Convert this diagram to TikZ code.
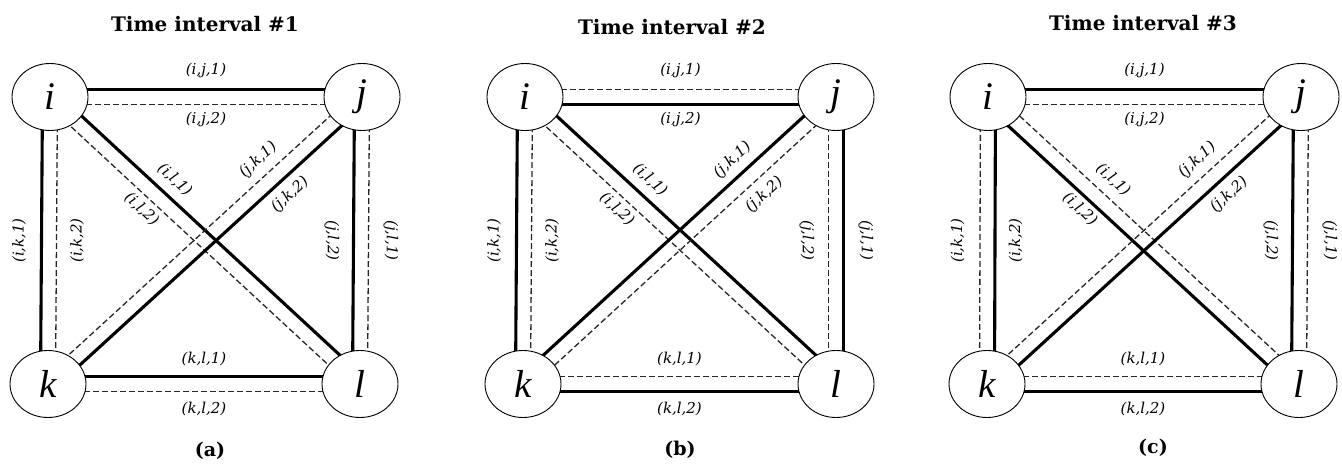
\documentclass[tikz,border=0pt]{standalone}
\usepackage{fontspec}
\setmainfont{Liberation Serif}
\newfontfamily\labfont{DejaVu Serif}
\newfontfamily\titfont{DejaVu Serif}
\usetikzlibrary{shapes.geometric,calc,backgrounds}
\tikzset{
  vtx/.style={ellipse, draw, line width=0.9pt, fill=white, minimum width=76pt,
    minimum height=67pt, inner sep=0pt, font=\fontsize{39}{41}\selectfont\itshape},
  thk/.style={line width=3.1pt, black},
  dsh/.style={line width=1.3pt, black!85, dash pattern=on 6pt off 3pt},
  lab/.style={font=\labfont\itshape\fontsize{15}{16}\selectfont, inner sep=1pt},
  ttl/.style={font=\titfont\bfseries\fontsize{20}{22}\selectfont},
  captxt/.style={font=\titfont\bfseries\fontsize{19}{20}\selectfont},
}
\newcommand\off{7.5pt}
% #1 = start node, #2 = end node, #3 = style of line on the left of #1->#2, #4 = style on the right
\newcommand\pairln[4]{%
  \draw[#3] ($(#1.center)!\off!90:(#2.center)$) -- ($(#2.center)!\off!-90:(#1.center)$);
  \draw[#4] ($(#1.center)!\off!-90:(#2.center)$) -- ($(#2.center)!\off!90:(#1.center)$);}
% nodes and labels of one panel
\newcommand\panelbase[5]{%
  \node[vtx] (#1i) at (#2,97) {i};
  \node[vtx] (#1j) at (#3,97) {j};
  \node[vtx] (#1k) at (#4,384) {k};
  \node[vtx] (#1l) at (#5,384) {l};
  \node[lab] (#1ijA) at ($(#1i.center)!0.5!(#1j.center)+(0,-27)$) {(i,j,1)};
  \node[lab] (#1ijB) at ($(#1i.center)!0.5!(#1j.center)+(0,22)$) {(i,j,2)};
  \node[lab] (#1klA) at ($(#1k.center)!0.5!(#1l.center)+(0,-25)$) {(k,l,1)};
  \node[lab] (#1klB) at ($(#1k.center)!0.5!(#1l.center)+(0,25)$) {(k,l,2)};
  \node[lab, rotate=90] (#1ikA) at ($(#1i.center)!0.5!(#1k.center)+(-30,0)$) {(i,k,1)};
  \node[lab, rotate=90] (#1ikB) at ($(#1i.center)!0.5!(#1k.center)+(28,0)$) {(i,k,2)};
  \node[lab, rotate=-90] (#1jlB) at ($(#1j.center)!0.5!(#1l.center)+(-29,0)$) {(j,l,2)};
  \node[lab, rotate=-90] (#1jlA) at ($(#1j.center)!0.5!(#1l.center)+(30,0)$) {(j,l,1)};
  \path (#1i.center) -- node[lab, sloped, pos=0.35, above=16pt] (#1ilA) {(i,l,1)}
                        node[lab, sloped, pos=0.34, below=12pt] (#1ilB) {(i,l,2)} (#1l.center);
  \path (#1k.center) -- node[lab, sloped, pos=0.72, above=15pt] (#1jkA) {(j,k,1)}
                        node[lab, sloped, pos=0.72, below=15pt] (#1jkB) {(j,k,2)} (#1j.center);
}
\begin{document}
\begin{tikzpicture}[x=1pt,y=-1pt]
\useasboundingbox (0,0) rectangle (1342,468);

\node[ttl] (t1) at (205,24) {Time interval \#1};
\node[ttl] (t2) at (672,27) {Time interval \#2};
\node[ttl] (t3) at (1143,23) {Time interval \#3};
\node[captxt] (c1) at (210,451) {(a)};
\node[captxt] (c2) at (680,450) {(b)};
\node[captxt] (c3) at (1153,448) {(c)};

\panelbase{a}{50}{362}{48}{360}
\panelbase{b}{525}{836}{523}{836}
\panelbase{c}{988}{1301}{987}{1299}

\begin{pgfonlayer}{background}
  % panel (a)
  \pairln{ai}{aj}{thk}{dsh}
  \pairln{ak}{ai}{thk}{dsh}
  \pairln{al}{aj}{thk}{dsh}
  \pairln{ak}{al}{thk}{dsh}
  \pairln{ai}{al}{thk}{dsh}
  \pairln{ak}{aj}{dsh}{thk}
  % panel (b)
  \pairln{bi}{bj}{dsh}{thk}
  \pairln{bk}{bi}{thk}{dsh}
  \pairln{bl}{bj}{dsh}{thk}
  \pairln{bk}{bl}{dsh}{thk}
  \pairln{bi}{bl}{thk}{dsh}
  \pairln{bk}{bj}{thk}{dsh}
  % panel (c)
  \pairln{ci}{cj}{thk}{dsh}
  \pairln{ck}{ci}{dsh}{thk}
  \pairln{cl}{cj}{thk}{dsh}
  \pairln{ck}{cl}{dsh}{thk}
  \pairln{ci}{cl}{dsh}{thk}
  \pairln{ck}{cj}{dsh}{thk}
\end{pgfonlayer}
\end{tikzpicture}
\end{document}
